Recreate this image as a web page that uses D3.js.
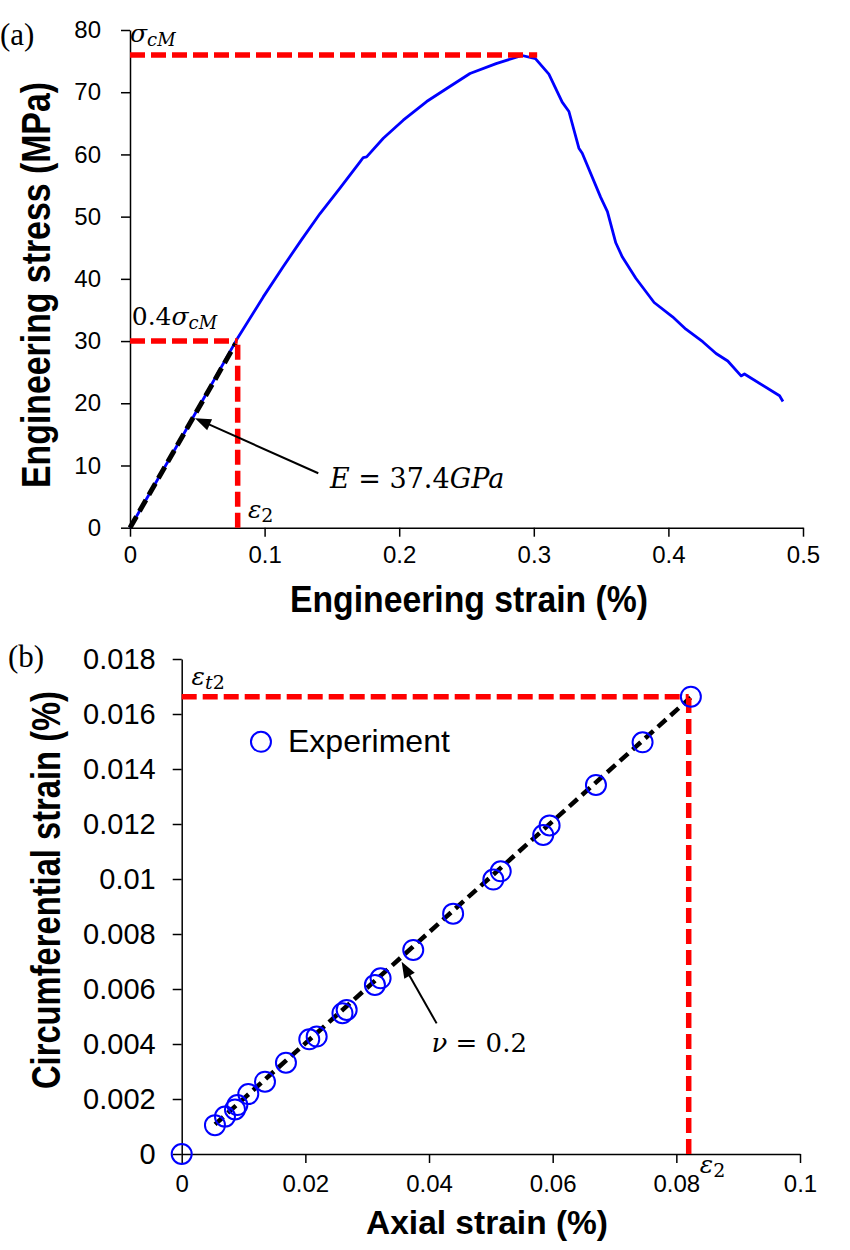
<!DOCTYPE html>
<html><head><meta charset="utf-8">
<script src="https://cdn.jsdelivr.net/npm/d3@7"></script>
<style>body{margin:0;background:#fff} svg{display:block}</style>
</head><body>
<svg id="c" width="850" height="1250"></svg>
<script>
// ---------- data: panel (a) ----------
const topStrain = [0, 0.04, 0.0792, 0.099, 0.1139, 0.1275, 0.1412, 0.156, 0.1709, 0.1733, 0.1758, 0.1882, 0.203, 0.2204, 0.2353, 0.2526, 0.272, 0.2913, 0.3012, 0.3112, 0.3211, 0.3261, 0.3335, 0.336, 0.3497, 0.3547, 0.3609, 0.3658, 0.3758, 0.3894, 0.4031, 0.413, 0.4255, 0.4354, 0.4441, 0.454, 0.4565, 0.4826, 0.4851];
const topStress = [0, 15.1, 30.2, 37.1, 42.0, 46.3, 50.5, 54.6, 58.8, 59.5, 59.6, 62.6, 65.5, 68.5, 70.6, 73.0, 74.6, 75.9, 75.4, 72.9, 68.4, 66.9, 61.0, 60.2, 53.1, 50.8, 45.8, 43.5, 40.1, 36.2, 33.9, 31.9, 29.9, 28.0, 26.8, 24.4, 24.7, 21.2, 20.3];
const topFitStrain = [0, 0.0785];
const topFitStress = [0, 29.6];
const topPeakStress = 76.0, topPeakStrain = 0.3025;
const top04Stress = 30, topEps2 = 0.08;
const topTicksX = [0, 0.1, 0.2, 0.3, 0.4, 0.5];
const topTickLabelsX = ["0", "0.1", "0.2", "0.3", "0.4", "0.5"];
const topTicksY = [0, 10, 20, 30, 40, 50, 60, 70, 80];
const topTickLabelsY = ["0", "10", "20", "30", "40", "50", "60", "70", "80"];

// ---------- data: panel (b) ----------
const botAxial = [0, 0.00538, 0.0070, 0.00862, 0.0090, 0.01077, 0.01347, 0.01686, 0.02063, 0.02183, 0.0260, 0.02668, 0.03125, 0.03217, 0.03745, 0.0439, 0.0504, 0.0516, 0.05847, 0.0595, 0.0670, 0.07454, 0.08235];
const botCirc = [0, 0.00105, 0.00136, 0.00162, 0.00178, 0.00218, 0.00263, 0.00332, 0.00417, 0.00427, 0.00512, 0.00524, 0.00615, 0.00639, 0.00742, 0.00874, 0.00998, 0.01028, 0.0116, 0.01195, 0.01342, 0.01497, 0.01663];
const botFitAxial = [0.0054, 0.0823];
const botFitCirc = [0.00108, 0.0166];
const botEpsT2 = 0.01663, botEps2 = 0.082;
const botTicksX = [0, 0.02, 0.04, 0.06, 0.08, 0.1];
const botTickLabelsX = ["0", "0.02", "0.04", "0.06", "0.08", "0.1"];
const botTicksY = [0, 0.002, 0.004, 0.006, 0.008, 0.01, 0.012, 0.014, 0.016, 0.018];
const botTickLabelsY = ["0", "0.002", "0.004", "0.006", "0.008", "0.01", "0.012", "0.014", "0.016", "0.018"];

const svg = d3.select("#c");
const SANS = "'Liberation Sans', Arial, Helvetica, sans-serif";
const MATH = "'DejaVu Serif', serif";
const SERIF = "'Liberation Serif', 'Times New Roman', serif";

function arrow(g, x1, y1, x2, y2) {
  const dx = x2 - x1, dy = y2 - y1, L = Math.hypot(dx, dy), ux = dx / L, uy = dy / L;
  const hl = 16, hw = 6;
  const bx = x2 - ux * hl, by = y2 - uy * hl;
  g.append("line").attr("x1", x1).attr("y1", y1).attr("x2", bx + ux * 2).attr("y2", by + uy * 2)
    .attr("stroke", "#000").attr("stroke-width", 2);
  g.append("path").attr("d", `M${x2},${y2}L${bx - uy * hw},${by + ux * hw}L${bx + uy * hw},${by - ux * hw}Z`)
    .attr("fill", "#000");
}

function styleAxis(g, fs) {
  g.attr("font-family", SANS);
  g.selectAll("path.domain").attr("stroke", "#000").attr("stroke-width", 1.5);
  g.selectAll(".tick line").attr("stroke", "#000").attr("stroke-width", 1.5);
  g.selectAll(".tick text").attr("font-family", SANS).attr("font-size", fs).attr("fill", "#000");
}

// ================= Panel (a) =================
const xA = d3.scaleLinear().domain([0, 0.5]).range([130, 803]);
const yA = d3.scaleLinear().domain([0, 80]).range([527.7, 30]);
const gA = svg.append("g");

const axA_x = gA.append("g").attr("transform", `translate(0,${yA(0)})`)
  .call(d3.axisBottom(xA).tickValues(topTicksX).tickFormat((d, i) => topTickLabelsX[i]).tickSize(9).tickSizeOuter(0).tickPadding(9));
styleAxis(axA_x, 24);
const axA_y = gA.append("g").attr("transform", `translate(${xA(0)},0)`)
  .call(d3.axisLeft(yA).tickValues(topTicksY).tickFormat((d, i) => topTickLabelsY[i]).tickSize(9).tickSizeOuter(0).tickPadding(20));
styleAxis(axA_y, 24);

const lineA = d3.line().x(i => xA(topStrain[i])).y(i => yA(topStress[i]));
gA.append("path").attr("d", lineA(d3.range(topStrain.length)))
  .attr("fill", "none").attr("stroke", "#0000ff").attr("stroke-width", 2.8).attr("stroke-linejoin", "round");

gA.append("line").attr("x1", xA(topFitStrain[0])).attr("y1", yA(topFitStress[0]))
  .attr("x2", xA(topFitStrain[1])).attr("y2", yA(topFitStress[1]))
  .attr("stroke", "#000").attr("stroke-width", 5).attr("stroke-dasharray", "13,6");

const red = (g, x1, y1, x2, y2) => g.append("line").attr("x1", x1).attr("y1", y1).attr("x2", x2).attr("y2", y2)
  .attr("stroke", "#ff0000").attr("stroke-width", 5.5).attr("stroke-dasharray", "15,6");
red(gA, xA(0), yA(topPeakStress), xA(topPeakStrain), yA(topPeakStress));
red(gA, xA(0), yA(top04Stress), xA(topEps2), yA(top04Stress));
red(gA, xA(topEps2), yA(0), xA(topEps2), yA(top04Stress));

// annotations (a)
const tS = gA.append("text").attr("x", xA(0)).attr("y", yA(78.1)).attr("font-family", MATH).attr("font-size", 25).attr("font-style", "italic");
tS.append("tspan").text("σ");
tS.append("tspan").attr("font-size", 18).attr("dy", 4).text("cM");

const t04 = gA.append("text").attr("x", xA(0.0013)).attr("y", yA(32.6)).attr("font-family", MATH).attr("font-size", 25);
t04.append("tspan").text("0.4");
t04.append("tspan").attr("font-style", "italic").text("σ");
t04.append("tspan").attr("font-style", "italic").attr("font-size", 18).attr("dy", 4).text("cM");

const tE2 = gA.append("text").attr("x", xA(0.0876)).attr("y", yA(1.56)).attr("font-family", MATH).attr("font-size", 25);
tE2.append("tspan").attr("font-style", "italic").text("ε");
tE2.append("tspan").attr("font-size", 19).attr("dy", 4).text("2");

arrow(gA, xA(0.1399), yA(8.75), xA(0.0483), yA(17.6));
const tE = gA.append("text").attr("x", xA(0.1486)).attr("y", yA(6.4)).attr("font-family", MATH).attr("font-size", 27);
tE.append("tspan").attr("font-style", "italic").text("E");
tE.append("tspan").text(" = 37.4");
tE.append("tspan").attr("font-style", "italic").text("GPa");

// axis titles (a)
gA.append("text").attr("x", 469).attr("y", 612).attr("text-anchor", "middle")
  .attr("font-family", SANS).attr("font-weight", "bold").attr("font-size", 37)
  .attr("textLength", 358).attr("lengthAdjust", "spacingAndGlyphs").text("Engineering strain (%)");
gA.append("text").attr("transform", "translate(50,285) rotate(-90)").attr("text-anchor", "middle")
  .attr("font-family", SANS).attr("font-weight", "bold").attr("font-size", 40)
  .attr("textLength", 406).attr("lengthAdjust", "spacingAndGlyphs").text("Engineering stress (MPa)");
svg.append("text").attr("x", 0).attr("y", 45).attr("font-family", SERIF).attr("font-size", 31).text("(a)");

// ================= Panel (b) =================
const xB = d3.scaleLinear().domain([0, 0.1]).range([181.7, 800]);
const yB = d3.scaleLinear().domain([0, 0.018]).range([1154, 659]);
const gB = svg.append("g");

const axB_x = gB.append("g").attr("transform", `translate(0,${yB(0)})`)
  .call(d3.axisBottom(xB).tickValues(botTicksX).tickFormat((d, i) => botTickLabelsX[i]).tickSize(9).tickSizeOuter(0).tickPadding(12));
styleAxis(axB_x, 24);
const axB_y = gB.append("g").attr("transform", `translate(${xB(0)},0)`)
  .call(d3.axisLeft(yB).tickValues(botTicksY).tickFormat((d, i) => botTickLabelsY[i]).tickSize(9).tickSizeOuter(0).tickPadding(17));
styleAxis(axB_y, 29);

gB.append("line").attr("x1", xB(botFitAxial[0])).attr("y1", yB(botFitCirc[0]))
  .attr("x2", xB(botFitAxial[1])).attr("y2", yB(botFitCirc[1]))
  .attr("stroke", "#000").attr("stroke-width", 4.5).attr("stroke-dasharray", "11,6");

red(gB, xB(0), yB(botEpsT2), xB(botEps2), yB(botEpsT2));
red(gB, xB(botEps2), yB(0), xB(botEps2), yB(botEpsT2));

gB.selectAll("circle.pt").data(d3.range(botAxial.length)).join("circle").attr("class", "pt")
  .attr("cx", i => xB(botAxial[i])).attr("cy", i => yB(botCirc[i])).attr("r", 10)
  .attr("fill", "none").attr("stroke", "#0000ff").attr("stroke-width", 2);

// legend
gB.append("circle").attr("cx", xB(0.01282)).attr("cy", yB(0.01499)).attr("r", 10)
  .attr("fill", "none").attr("stroke", "#0000ff").attr("stroke-width", 2);
gB.append("text").attr("x", xB(0.01719)).attr("y", yB(0.01462)).attr("font-family", SANS).attr("font-size", 32).text("Experiment");

// annotations (b)
const tT2 = gB.append("text").attr("x", xB(0.0016)).attr("y", yB(0.01705)).attr("font-family", MATH).attr("font-size", 25);
tT2.append("tspan").attr("font-style", "italic").text("ε");
tT2.append("tspan").attr("font-style", "italic").attr("font-size", 19).attr("dy", 4).text("t");
tT2.append("tspan").attr("font-size", 19).text("2");

const tB2 = gB.append("text").attr("x", xB(0.0838)).attr("y", yB(-0.00069)).attr("font-family", MATH).attr("font-size", 25);
tB2.append("tspan").attr("font-style", "italic").text("ε");
tB2.append("tspan").attr("font-size", 19).attr("dy", 4).text("2");

arrow(gB, xB(0.04123), yB(0.00475), xB(0.03557), yB(0.00699));
const tNu = gB.append("text").attr("x", xB(0.0404)).attr("y", yB(0.00372)).attr("font-family", MATH).attr("font-size", 26);
tNu.append("tspan").attr("font-style", "italic").text("ν");
tNu.append("tspan").text(" = 0.2");

// axis titles (b)
gB.append("text").attr("x", 487).attr("y", 1234).attr("text-anchor", "middle")
  .attr("font-family", SANS).attr("font-weight", "bold").attr("font-size", 34)
  .attr("textLength", 242).attr("lengthAdjust", "spacingAndGlyphs").text("Axial strain (%)");
gB.append("text").attr("transform", "translate(60,890) rotate(-90)").attr("text-anchor", "middle")
  .attr("font-family", SANS).attr("font-weight", "bold").attr("font-size", 40)
  .attr("textLength", 398).attr("lengthAdjust", "spacingAndGlyphs").text("Circumferential strain (%)");
svg.append("text").attr("x", 8).attr("y", 667).attr("font-family", SERIF).attr("font-size", 31).text("(b)");
</script>
</body></html>
